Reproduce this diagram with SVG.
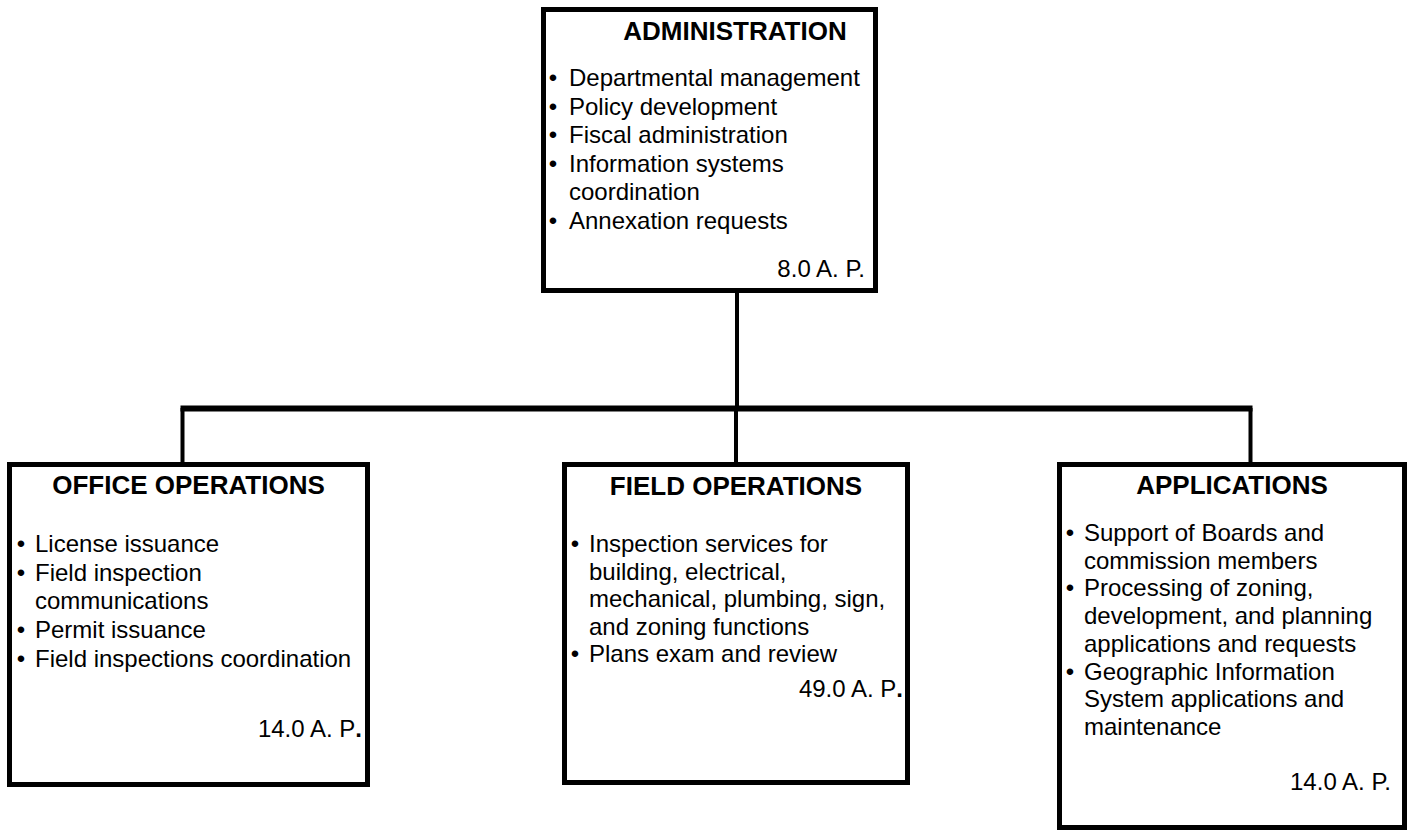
<svg xmlns="http://www.w3.org/2000/svg" width="1411" height="831" viewBox="0 0 1411 831">
<style>
.box{fill:#fff;stroke:#000;stroke-width:5}
.t{font-family:"Liberation Sans",Arial,sans-serif;font-size:26px;font-weight:bold;text-anchor:middle;fill:#000}
.b{font-family:"Liberation Sans",Arial,sans-serif;font-size:24px;fill:#000}
.d{font-family:"Liberation Sans",Arial,sans-serif;font-size:24px;fill:#000;text-anchor:middle}
.r{font-family:"Liberation Sans",Arial,sans-serif;font-size:24px;fill:#000;text-anchor:end}
.c{stroke:#000;fill:none}
</style>
<rect width="1411" height="831" fill="#fff"/>
<g id="connectors">
<line class="c" x1="737" y1="292" x2="737" y2="410" stroke-width="4"/>
<line class="c" x1="180.5" y1="408.5" x2="1252.5" y2="408.5" stroke-width="6"/>
<line class="c" x1="182.5" y1="408" x2="182.5" y2="464" stroke-width="4"/>
<line class="c" x1="736" y1="408" x2="736" y2="464" stroke-width="4"/>
<line class="c" x1="1250.5" y1="408" x2="1250.5" y2="464" stroke-width="4"/>
</g>
<g id="administration">
<rect class="box" x="543.5" y="9.5" width="332" height="281"/>
<text class="t" x="735" y="40">ADMINISTRATION</text>
<text class="d" x="553" y="86">•</text><text class="b" x="569" y="86">Departmental management</text>
<text class="d" x="553" y="114.6">•</text><text class="b" x="569" y="114.6">Policy development</text>
<text class="d" x="553" y="143.2">•</text><text class="b" x="569" y="143.2">Fiscal administration</text>
<text class="d" x="553" y="171.8">•</text><text class="b" x="569" y="171.8">Information systems</text>
<text class="b" x="569" y="200.4">coordination</text>
<text class="d" x="553" y="229">•</text><text class="b" x="569" y="229">Annexation requests</text>
<text class="r" x="865" y="277">8.0 A. P.</text>
</g>
<g id="office-operations">
<rect class="box" x="9.5" y="464.5" width="358" height="320"/>
<text class="t" x="188.5" y="494">OFFICE OPERATIONS</text>
<text class="d" x="21" y="552">•</text><text class="b" x="35" y="552">License issuance</text>
<text class="d" x="21" y="580.7">•</text><text class="b" x="35" y="580.7">Field inspection</text>
<text class="b" x="35" y="609.4">communications</text>
<text class="d" x="21" y="638.1">•</text><text class="b" x="35" y="638.1">Permit issuance</text>
<text class="d" x="21" y="666.8">•</text><text class="b" x="35" y="666.8">Field inspections coordination</text>
<text class="r" x="362" y="737">14.0 A. P<tspan font-weight="bold">.</tspan></text>
</g>
<g id="field-operations">
<rect class="box" x="564.5" y="464.5" width="343" height="318"/>
<text class="t" x="736" y="495">FIELD OPERATIONS</text>
<text class="d" x="575" y="552">•</text><text class="b" x="589" y="552">Inspection services for</text>
<text class="b" x="589" y="579.6">building, electrical,</text>
<text class="b" x="589" y="607.2">mechanical, plumbing, sign,</text>
<text class="b" x="589" y="634.8">and zoning functions</text>
<text class="d" x="575" y="662.4">•</text><text class="b" x="589" y="662.4">Plans exam and review</text>
<text class="r" x="903" y="697">49.0 A. P<tspan font-weight="bold">.</tspan></text>
</g>
<g id="applications">
<rect class="box" x="1059.5" y="464.5" width="345" height="363"/>
<text class="t" x="1232" y="494">APPLICATIONS</text>
<text class="d" x="1070" y="541">•</text><text class="b" x="1084" y="541">Support of Boards and</text>
<text class="b" x="1084" y="568.7">commission members</text>
<text class="d" x="1070" y="596.4">•</text><text class="b" x="1084" y="596.4">Processing of zoning,</text>
<text class="b" x="1084" y="624.1">development, and planning</text>
<text class="b" x="1084" y="651.8">applications and requests</text>
<text class="d" x="1070" y="679.5">•</text><text class="b" x="1084" y="679.5">Geographic Information</text>
<text class="b" x="1084" y="707.2">System applications and</text>
<text class="b" x="1084" y="734.9">maintenance</text>
<text class="r" x="1391" y="790">14.0 A. P.</text>
</g>
</svg>
